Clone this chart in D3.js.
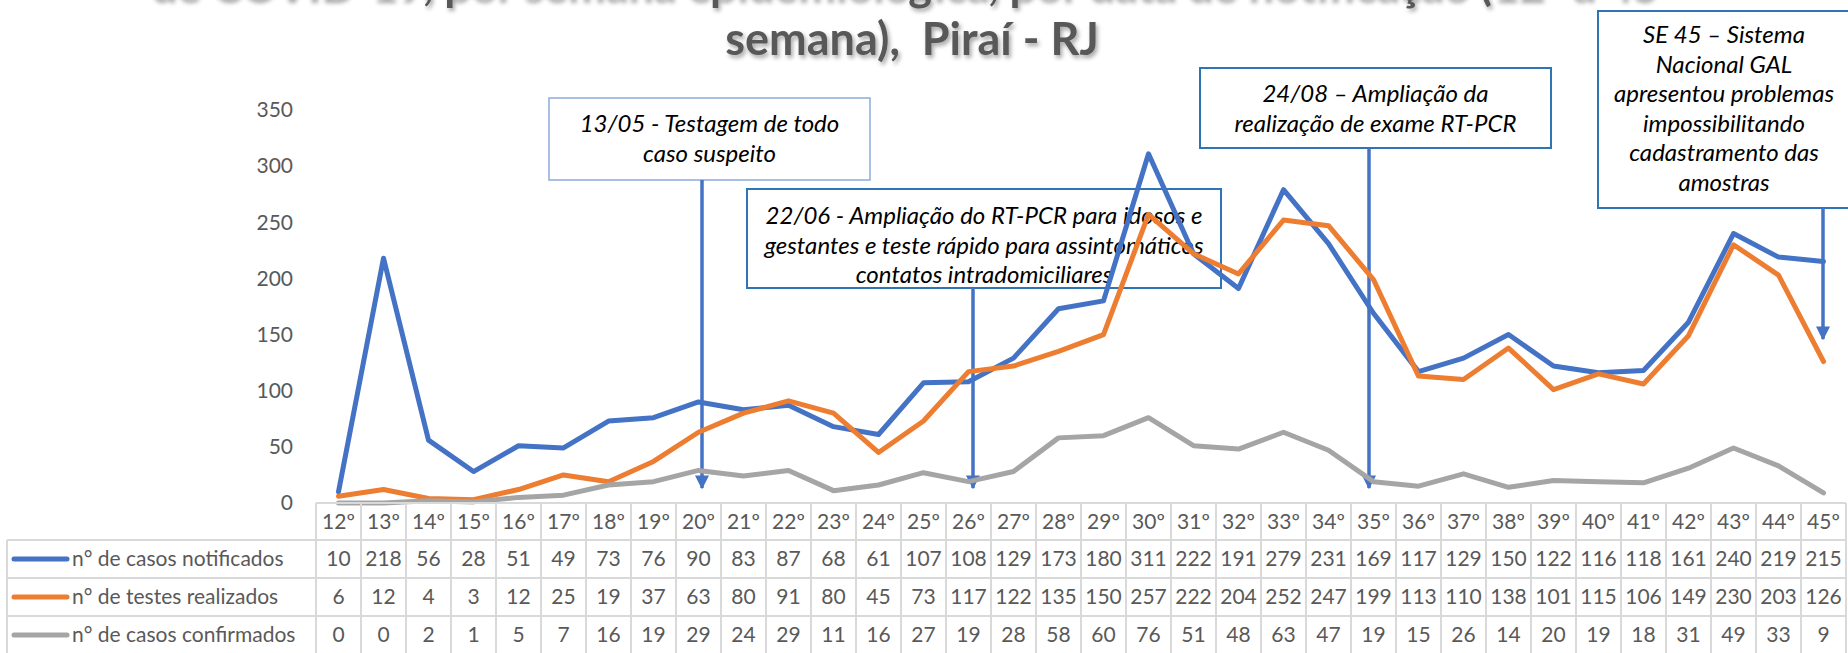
<!DOCTYPE html>
<html lang="pt">
<head>
<meta charset="utf-8">
<title>Casos COVID-19 Piraí</title>
<script src="https://d3js.org/d3.v7.min.js"></script>
<style>
  body { margin: 0; background: #fff; }
  svg { display: block; font-family: Lato, "Open Sans", sans-serif; }
  text { white-space: pre; }
</style>
</head>
<body>
<div id="chart"></div>
<script>
const weeks = ["12º","13º","14º","15º","16º","17º","18º","19º","20º","21º","22º","23º","24º","25º","26º","27º",
  "28º","29º","30º","31º","32º","33º","34º","35º","36º","37º","38º","39º","40º","41º","42º","43º","44º","45º"];
const notificados = [10,218,56,28,51,49,73,76,90,83,87,68,61,107,108,129,173,180,311,222,191,279,231,169,117,129,150,122,116,118,161,240,219,215];
const testes = [6,12,4,3,12,25,19,37,63,80,91,80,45,73,117,122,135,150,257,222,204,252,247,199,113,110,138,101,115,106,149,230,203,126];
const confirmados = [0,0,2,1,5,7,16,19,29,24,29,11,16,27,19,28,58,60,76,51,48,63,47,19,15,26,14,20,19,18,31,49,33,9];
const seriesNames = ["n° de casos notificados", "n° de testes realizados", "n° de casos confirmados"];
const yTicks = [0, 50, 100, 150, 200, 250, 300, 350];
const titleLines = ["de COVID-19, por semana epidemiológica, por data de notificação (12ª a 45ª", "semana),  Piraí - RJ"];
const noteWeeks = ["20º", "26º", "35º", "45º"];
const noteTexts = [
  ["13/05 - Testagem de todo", "caso suspeito"],
  ["22/06 - Ampliação do RT-PCR para idosos e", "gestantes e teste rápido para assintomáticos", "contatos intradomiciliares"],
  ["24/08 – Ampliação da", "realização de exame RT-PCR"],
  ["SE 45 – Sistema", "Nacional GAL", "apresentou problemas", "impossibilitando", "cadastramento das", "amostras"]
];

const W = 1848, H = 653;
const colors = ["#4472C4", "#ED7D31", "#A5A5A5"];
const series = [notificados, testes, confirmados];
const textColor = "#595959";
const gridColor = "#d9d9d9";

const svg = d3.select("#chart").append("svg")
  .attr("width", W).attr("height", H);

const defs = svg.append("defs");
const shadow = defs.append("filter").attr("id", "shadow")
  .attr("x", "-5%").attr("y", "-50%").attr("width", "110%").attr("height", "200%");
shadow.append("feDropShadow").attr("dx", 2).attr("dy", 3).attr("stdDeviation", 2)
  .attr("flood-color", "#000").attr("flood-opacity", 0.35);
defs.append("marker").attr("id", "arrow")
  .attr("viewBox", "0 0 10 10").attr("refX", 9).attr("refY", 5)
  .attr("markerWidth", 14).attr("markerHeight", 14)
  .attr("markerUnits", "userSpaceOnUse").attr("orient", "auto")
  .append("path").attr("d", "M0,0 L10,5 L0,10 Z").attr("fill", "#4472C4");

// escalas
const x = d3.scaleBand().domain(weeks).range([316, 1846]).padding(0);
const y = d3.scaleLinear().domain([0, 350]).range([503, 110]);
const cx = d => x(d) + x.bandwidth() / 2;

// titulo (primeira linha cortada no topo)
svg.append("g").attr("filter", "url(#shadow)")
  .selectAll("text").data(titleLines).join("text")
  .attr("x", 912).attr("y", (d, i) => i * 55)
  .attr("text-anchor", "middle")
  .attr("font-size", 45).attr("font-weight", "bold")
  .attr("fill", textColor)
  .text(d => d);

// eixo y sem linha
const yAxis = svg.append("g").attr("transform", "translate(293,0)")
  .call(d3.axisLeft(y).tickValues(yTicks).tickSize(0).tickPadding(0));
yAxis.select(".domain").remove();
yAxis.selectAll("text").attr("font-size", 21).attr("fill", textColor)
  .attr("font-family", "Lato, 'Open Sans', sans-serif");

// anotacoes
const boxes = [
  { x0: 549, x1: 870, y0: 98, y1: 180, first: 124, stroke: "#8FAADC", sw: 1.5, dx: 3.5, tip: 488 },
  { x0: 747, x1: 1221, y0: 189, y1: 288, first: 216, stroke: "#2E75B6", sw: 2, dx: 4.5, tip: 488 },
  { x0: 1200, x1: 1551, y0: 68, y1: 148, first: 94, stroke: "#2E75B6", sw: 2, dx: -4.5, tip: 488 },
  { x0: 1598, x1: 1862, y0: 11, y1: 208, first: 35, stroke: "#2E75B6", sw: 2, dx: -0.5, tip: 339 }
];
const notes = svg.append("g");
boxes.forEach((b, i) => {
  const g = notes.append("g");
  g.append("rect").attr("x", b.x0).attr("y", b.y0)
    .attr("width", b.x1 - b.x0).attr("height", b.y1 - b.y0)
    .attr("fill", i === 1 ? "none" : "#fff").attr("stroke", b.stroke).attr("stroke-width", b.sw);
  g.selectAll("text").data(noteTexts[i]).join("text")
    .attr("x", i === 3 ? 1724 : (b.x0 + b.x1) / 2)
    .attr("y", (d, j) => b.first + j * 29.5)
    .attr("dy", "0.35em")
    .attr("text-anchor", "middle")
    .attr("font-size", 24).attr("font-style", "italic")
    .attr("fill", "#000")
    .text(d => d);
  const ax = cx(noteWeeks[i]) + b.dx;
  g.append("line").attr("x1", ax).attr("x2", ax)
    .attr("y1", b.y1).attr("y2", b.tip)
    .attr("stroke", "#4472C4").attr("stroke-width", 3.5)
    .attr("marker-end", "url(#arrow)");
});

// linhas das series
const line = d3.line().x((d, i) => cx(weeks[i])).y(d => y(d));
svg.append("g").selectAll("path").data(series).join("path")
  .attr("d", line)
  .attr("fill", "none")
  .attr("stroke", (d, i) => colors[i])
  .attr("stroke-width", 5)
  .attr("stroke-linejoin", "round")
  .attr("stroke-linecap", "round");

// tabela de dados
const rowTop = [503, 540, 578, 616, 654];
const legendLeft = 7;
const table = svg.append("g");
// linhas horizontais
table.append("line").attr("x1", x.range()[0]).attr("x2", x.range()[1])
  .attr("y1", rowTop[0]).attr("y2", rowTop[0]);
rowTop.slice(1).forEach(ry => {
  table.append("line").attr("x1", legendLeft).attr("x2", x.range()[1])
    .attr("y1", ry).attr("y2", ry);
});
// linhas verticais
weeks.concat([null]).forEach((w, i) => {
  const vx = w === null ? x.range()[1] : x(w);
  table.append("line").attr("x1", vx).attr("x2", vx)
    .attr("y1", rowTop[0]).attr("y2", rowTop[4]);
});
table.append("line").attr("x1", legendLeft).attr("x2", legendLeft)
  .attr("y1", rowTop[1]).attr("y2", rowTop[4]);
table.selectAll("line").attr("stroke", gridColor).attr("stroke-width", 2);

const rowMid = i => (rowTop[i] + rowTop[i + 1]) / 2;
table.selectAll("text.week").data(weeks).join("text").attr("class", "week")
  .attr("x", d => cx(d)).attr("y", rowMid(0)).attr("dy", "0.35em")
  .attr("text-anchor", "middle").attr("font-size", 21).attr("fill", textColor)
  .text(d => d);

series.forEach((vals, s) => {
  const r = s + 1;
  table.append("g").selectAll("text").data(vals).join("text")
    .attr("x", (d, i) => cx(weeks[i])).attr("y", rowMid(r)).attr("dy", "0.35em")
    .attr("text-anchor", "middle").attr("font-size", 21).attr("fill", textColor)
    .text(d => d);
  table.append("line").attr("x1", 14).attr("x2", 67)
    .attr("y1", rowMid(r)).attr("y2", rowMid(r))
    .attr("stroke", colors[s]).attr("stroke-width", 5).attr("stroke-linecap", "round");
  table.append("text").attr("x", 72).attr("y", rowMid(r)).attr("dy", "0.35em")
    .attr("font-size", 21).attr("fill", textColor)
    .text(seriesNames[s]);
});
</script>
</body>
</html>
